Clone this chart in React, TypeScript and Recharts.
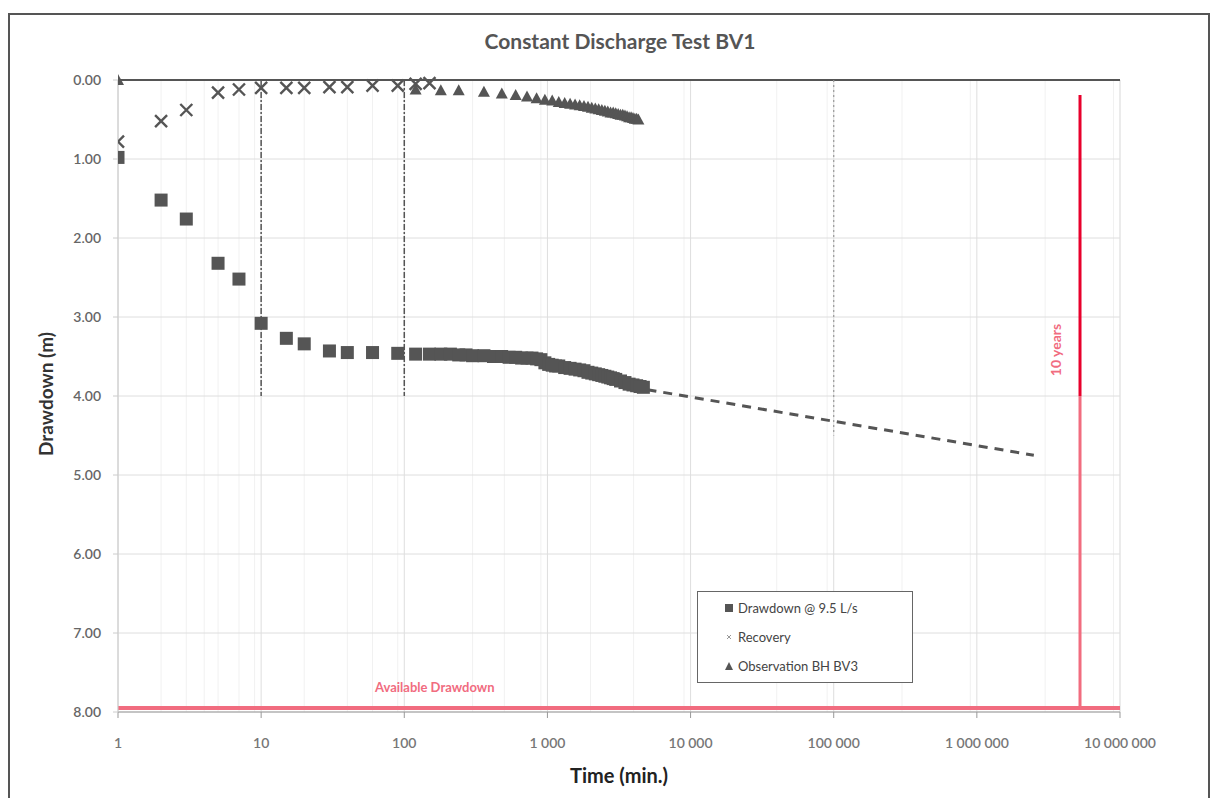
import {
  ComposedChart,
  Scatter,
  Line,
  XAxis,
  YAxis,
  CartesianGrid,
  ReferenceLine,
} from "recharts";

// Constant discharge test BV1
const drawdownTimes = [
  1, 2, 3, 5, 7, 10, 15, 20, 30, 40, 60, 90, 120, 150, 180, 210, 240, 270, 300, 360,
  420, 480, 540, 600, 660, 720, 780, 840, 900, 960, 1020, 1080, 1140, 1200, 1320, 1440,
  1560, 1680, 1800, 1920, 2040, 2160, 2280, 2400, 2520, 2640, 2760, 2880, 3000, 3240,
  3480, 3720, 3960, 4200, 4440, 4680,
];
const drawdownValues = [
  0.98, 1.52, 1.76, 2.32, 2.52, 3.08, 3.27, 3.34, 3.43, 3.45, 3.45, 3.46, 3.47, 3.47,
  3.47, 3.47, 3.48, 3.48, 3.49, 3.49, 3.5, 3.5, 3.51, 3.51, 3.52, 3.52, 3.52, 3.53,
  3.54, 3.58, 3.6, 3.61, 3.62, 3.62, 3.64, 3.65, 3.66, 3.67, 3.68, 3.7, 3.71, 3.72,
  3.73, 3.74, 3.75, 3.76, 3.77, 3.78, 3.79, 3.81, 3.83, 3.85, 3.86, 3.87, 3.88, 3.89,
];

const recoveryTimes = [1, 2, 3, 5, 7, 10, 15, 20, 30, 40, 60, 90, 120, 150];
const recoveryValues = [0.78, 0.52, 0.38, 0.16, 0.12, 0.1, 0.1, 0.1, 0.09, 0.09, 0.07, 0.07, 0.05, 0.04];

const obsTimes = [
  1, 120, 180, 240, 360, 480, 600, 720, 840, 960, 1080, 1200, 1320, 1440, 1560, 1680,
  1800, 1920, 2040, 2160, 2280, 2400, 2520, 2640, 2760, 2880, 3000, 3120, 3240, 3360,
  3480, 3600, 3720, 3840, 3960, 4080, 4200, 4320,
];
const obsValues = [
  0.0, 0.12, 0.13, 0.13, 0.15, 0.17, 0.19, 0.21, 0.23, 0.25, 0.26, 0.28, 0.29, 0.3,
  0.31, 0.32, 0.33, 0.34, 0.35, 0.36, 0.37, 0.38, 0.39, 0.4, 0.41, 0.41, 0.42, 0.43,
  0.44, 0.44, 0.45, 0.46, 0.47, 0.47, 0.48, 0.49, 0.49, 0.5,
];

// extrapolated trend (dashed)
const trendTimes = [5000, 2500000];
const trendValues = [3.92, 4.75];

const availableDrawdown = 7.95;
const tenYears = 5256000; // minutes

const xTicks = [1, 10, 100, 1000, 10000, 100000, 1000000, 10000000];
const xTickLabels = ["1", "10", "100", "1 000", "10 000", "100 000", "1 000 000", "10 000 000"];
const yTicks = [0, 1, 2, 3, 4, 5, 6, 7, 8];
const minorTicks = xTicks.slice(0, -1).flatMap((d) => [2, 3, 4, 5, 6, 7, 8, 9].map((m) => m * d));

const zip = (ts: number[], vs: number[]) => ts.map((t, i) => ({ t, v: vs[i] }));
const drawdownData = zip(drawdownTimes, drawdownValues);
const recoveryData = zip(recoveryTimes, recoveryValues);
const obsData = zip(obsTimes, obsValues);
const trendData = zip(trendTimes, trendValues);

const FONT = "Lato, 'Open Sans', sans-serif";
const MARK = "#555555";
const PINK = "#f16c7f";

const Square = ({ cx, cy }: any) => (
  <rect x={cx - 6.5} y={cy - 6.5} width={13} height={13} fill={MARK} />
);
const Cross = ({ cx, cy }: any) => (
  <path
    d={`M${cx - 6},${cy - 6}L${cx + 6},${cy + 6}M${cx + 6},${cy - 6}L${cx - 6},${cy + 6}`}
    stroke={MARK}
    strokeWidth={2.4}
  />
);
const Triangle = ({ cx, cy }: any) => (
  <path d={`M${cx},${cy - 6}L${cx + 6},${cy + 5}L${cx - 6},${cy + 5}Z`} fill={MARK} />
);

function LegendBox() {
  const row = { display: "flex", alignItems: "center", height: 29, gap: 4 } as const;
  return (
    <div
      style={{
        position: "absolute",
        left: 697,
        top: 591,
        width: 216,
        boxSizing: "border-box",
        border: "1.5px solid #666",
        background: "#fff",
        padding: "1px 0 2px 26px",
        fontFamily: FONT,
        fontSize: 13,
        color: "#444",
      }}
    >
      <div style={row}>
        <svg width={10} height={10}><rect x={1} y={1} width={8} height={8} fill={MARK} /></svg>
        Drawdown @ 9.5 L/s
      </div>
      <div style={row}>
        <svg width={10} height={10}><path d="M3,3L7,7M7,3L3,7" stroke="#999" strokeWidth={1} /></svg>
        Recovery
      </div>
      <div style={row}>
        <svg width={10} height={10}><path d="M5,1L9,9L1,9Z" fill={MARK} /></svg>
        Observation BH BV3
      </div>
    </div>
  );
}

export default function App() {
  return (
    <div style={{ position: "relative", width: 1215, height: 798, overflow: "hidden", background: "#fff" }}>
      <style>{"body{margin:0;overflow:hidden}"}</style>
      <div
        style={{
          position: "absolute",
          left: 8,
          top: 13,
          width: 1202,
          height: 800,
          border: "2px solid #555",
          boxSizing: "border-box",
        }}
      />
      <div
        style={{
          position: "absolute",
          top: 28,
          left: 0,
          width: 1240,
          textAlign: "center",
          fontFamily: FONT,
          fontWeight: 700,
          fontSize: 21,
          color: "#555",
        }}
      >
        Constant Discharge Test BV1
      </div>
      <div style={{ position: "absolute", left: 0, top: 0 }}>
        <ComposedChart
          width={1215}
          height={798}
          margin={{ top: 80, right: 95, bottom: 48, left: 48 }}
          style={{ fontFamily: FONT }}
        >
          <CartesianGrid xAxisId="minor" horizontal={false} stroke="#f1f1f1" />
          <CartesianGrid stroke="#dedede" />
          <XAxis
            xAxisId="minor"
            dataKey="t"
            type="number"
            scale="log"
            domain={[1, 10000000]}
            ticks={minorTicks}
            hide
            allowDataOverflow
          />
          <XAxis
            dataKey="t"
            type="number"
            scale="log"
            domain={[1, 10000000]}
            ticks={xTicks}
            allowDataOverflow
            interval={0}
            height={38}
            stroke="#999"
            tickSize={6}
            tick={{ fill: "#777", fontSize: 14, fontWeight: 600, dy: 18 }}
            tickFormatter={(v: number) => xTickLabels[xTicks.indexOf(v)] ?? ""}
            label={{
              value: "Time (min.)",
              position: "insideBottom",
              offset: -10,
              dy: 23,
              fill: "#222",
              fontSize: 20,
              fontWeight: 700,
            }}
          />
          <YAxis
            dataKey="v"
            type="number"
            domain={[0, 8]}
            reversed
            ticks={yTicks}
            interval={0}
            width={70}
            stroke="#ccc"
            tickSize={5}
            tick={{ fill: "#666", fontSize: 14, fontWeight: 600, dx: -10 }}
            tickFormatter={(v: number) => v.toFixed(2)}
            label={{
              value: "Drawdown (m)",
              angle: -90,
              position: "insideLeft",
              offset: -2,
              dy: 60,
              fill: "#333",
              fontSize: 19,
              fontWeight: 700,
            }}
          />
          <ReferenceLine y={0} stroke="#555" strokeWidth={2} />
          <ReferenceLine
            segment={[{ x: 10, y: 0 }, { x: 10, y: 4 }]}
            stroke="#555"
            strokeWidth={1.5}
            strokeDasharray="6 2 2 2"
          />
          <ReferenceLine
            segment={[{ x: 100, y: 0 }, { x: 100, y: 4 }]}
            stroke="#555"
            strokeWidth={1.5}
            strokeDasharray="6 2 2 2"
          />
          <ReferenceLine
            segment={[{ x: 100000, y: 0 }, { x: 100000, y: 4.5 }]}
            stroke="#999"
            strokeWidth={1.2}
            strokeDasharray="2 3"
          />
          <ReferenceLine
            y={availableDrawdown}
            stroke={PINK}
            strokeWidth={4}
            label={(p: any) => (
              <text
                x={p.viewBox.x + 257}
                y={p.viewBox.y - 16}
                fill={PINK}
                fontSize={13}
                fontWeight={700}
                fontFamily={FONT}
              >
                Available Drawdown
              </text>
            )}
          />
          <ReferenceLine
            segment={[{ x: tenYears, y: 4 }, { x: tenYears, y: availableDrawdown }]}
            stroke={PINK}
            strokeWidth={3}
          />
          <ReferenceLine
            segment={[{ x: tenYears, y: 0.19 }, { x: tenYears, y: 4 }]}
            stroke="#e8002c"
            strokeWidth={3}
            label={(p: any) => {
              const vb = p.viewBox;
              const x = vb.x - 19;
              const y = vb.y + 255;
              return (
                <text
                  x={x}
                  y={y}
                  transform={`rotate(-90 ${x} ${y})`}
                  textAnchor="middle"
                  fill={PINK}
                  fontSize={14}
                  fontWeight={700}
                  fontFamily={FONT}
                >
                  10 years
                </text>
              );
            }}
          />
          <Line
            data={trendData}
            dataKey="v"
            stroke={MARK}
            strokeWidth={3}
            strokeDasharray="9 7"
            dot={false}
            isAnimationActive={false}
            legendType="none"
          />
          <Scatter
            name="Drawdown @ 9.5 L/s"
            data={drawdownData}
            dataKey="v"
            shape={Square}
            isAnimationActive={false}
          />
          <Scatter
            name="Recovery"
            data={recoveryData}
            dataKey="v"
            shape={Cross}
            isAnimationActive={false}
          />
          <Scatter
            name="Observation BH BV3"
            data={obsData}
            dataKey="v"
            shape={Triangle}
            isAnimationActive={false}
          />
        </ComposedChart>
      </div>
      <LegendBox />
    </div>
  );
}
